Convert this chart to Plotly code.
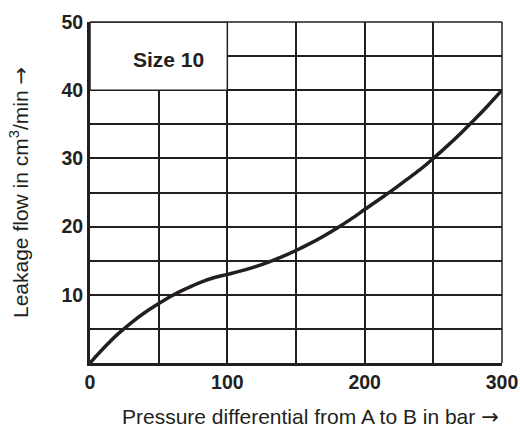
import plotly.graph_objects as go

# leakage curve
pressure = [0, 10, 20, 30, 40, 50, 60, 70, 80, 90, 100, 110, 120, 130, 140, 150,
            160, 170, 180, 190, 200, 210, 220, 230, 240, 250, 260, 270, 280, 290, 300]
leakage = [0, 2.2, 4.2, 5.9, 7.4, 8.7, 9.9, 10.9, 11.8, 12.5, 13.0, 13.5, 14.1, 14.8, 15.6, 16.5,
           17.5, 18.6, 19.8, 21.1, 22.5, 23.9, 25.3, 26.8, 28.3, 30.0, 31.8, 33.7, 35.7, 37.8, 40.0]

x_ticks = [0, 100, 200, 300]
y_ticks = [10, 20, 30, 40, 50]

INK = "#231f20"
FONT = "Liberation Sans, Arial, sans-serif"
ARROW = "<span style='font-family:DejaVu Sans'>→</span>"

fig = go.Figure(go.Scatter(
    x=pressure,
    y=leakage,
    mode="lines",
    line=dict(color=INK, width=3.5, shape="spline"),
    showlegend=False,
))

# white label box covering the grid in the top-left corner
fig.add_shape(type="rect", x0=0, x1=100, y0=40, y1=50, xref="x", yref="y",
              fillcolor="white", line=dict(color=INK, width=1.5), layer="between")
fig.add_annotation(x=57, y=44.5, text="<b>Size 10</b>", showarrow=False,
                   font=dict(size=21, color=INK, family=FONT))

# x title as annotation so it can sit a bit right of centre like the original
fig.add_annotation(x=0.536, y=0, xref="paper", yref="paper", yanchor="middle",
                   yshift=-54, showarrow=False,
                   text="Pressure differential from A to B in bar " + ARROW,
                   font=dict(size=21, color=INK, family=FONT))

fig.update_layout(
    width=520,
    height=434,
    margin=dict(l=90, r=18, t=22, b=71, autoexpand=False),
    plot_bgcolor="white",
    paper_bgcolor="white",
    font=dict(family=FONT, color=INK),
)
fig.update_xaxes(
    range=[0, 300],
    automargin=False,
    showgrid=True, gridcolor=INK, gridwidth=1.5,
    zeroline=False,
    showline=True, linecolor=INK, linewidth=3,
    tickvals=x_ticks,
    ticktext=[f"<b>{v}</b>" for v in x_ticks],
    tickfont=dict(size=19.5, color=INK),
    ticklabeloverflow="allow",
    ticks="",
)
fig.update_yaxes(
    range=[0, 50],
    automargin=False,
    showgrid=True, gridcolor=INK, gridwidth=1.5,
    zeroline=False,
    showline=True, linecolor=INK, linewidth=3,
    tickvals=y_ticks,
    ticktext=[f"<b>{v}</b>" for v in y_ticks],
    tickfont=dict(size=19.5, color=INK),
    ticklabeloverflow="allow",
    ticks="",
    title=dict(text="Leakage flow in cm<sup>3</sup>/min " + ARROW,
               font=dict(size=21, color=INK), standoff=28),
)
# minor grid every 5 on y, every 50 on x
fig.update_yaxes(minor=dict(dtick=5, showgrid=True, gridcolor=INK, gridwidth=1.5))
fig.update_xaxes(minor=dict(dtick=50, showgrid=True, gridcolor=INK, gridwidth=1.5))

# thin top and right border
fig.add_shape(type="line", x0=0, x1=1, y0=1, y1=1, xref="paper", yref="paper",
              line=dict(color=INK, width=1.5))
fig.add_shape(type="line", x0=1, x1=1, y0=0, y1=1, xref="paper", yref="paper",
              line=dict(color=INK, width=1.5))

# drop the default page margin so the 520x434 figure fills the window
fig.write_html("out.html",
               config={"displayModeBar": False},
               post_script="document.body.style.margin='0';document.body.style.overflow='hidden';")
